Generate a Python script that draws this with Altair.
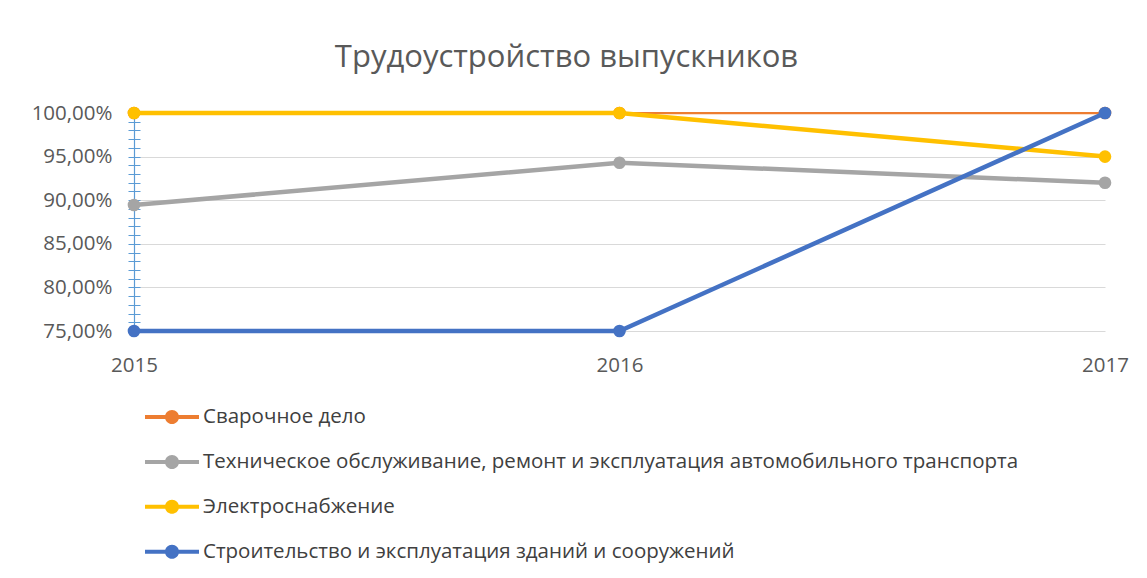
import altair as alt
import pandas as pd

years = ["2015", "2016", "2017"]
series = [
    "Сварочное дело",
    "Техническое обслуживание, ремонт и  эксплуатация автомобильного транспорта",
    "Электроснабжение",
    "Строительство и  эксплуатация зданий и сооружений",
]
values = [
    [1.00, 1.00, 1.00],
    [0.8945, 0.943, 0.92],
    [1.00, 1.00, 0.95],
    [0.75, 0.75, 1.00],
]
colors = ["#ED7D31", "#A5A5A5", "#FFC000", "#4472C4"]
widths = [2.25, 4.5, 4.5, 4.5]
major_ticks = [0.75, 0.80, 0.85, 0.90, 0.95, 1.00]
minor_ticks = [round(0.75 + i * 0.01, 2) for i in range(26)]

rows = []
for si, s in enumerate(series):
    for yi, y in enumerate(years):
        rows.append({"series": s, "year": y, "value": values[si][yi], "order": si})
df = pd.DataFrame(rows)

FONT = "Open Sans"
LABEL_COLOR = "#595959"

x_enc = alt.X("year:N", scale=alt.Scale(domain=years, padding=0),
              axis=alt.Axis(title=None, labelAngle=0, ticks=False, domain=False,
                            labelPadding=24, labelFontSize=20.5, labelColor=LABEL_COLOR,
                            labelFont=FONT, grid=False))
y_scale = alt.Scale(domain=[0.75, 1.0], zero=False, nice=False)
color_scale = alt.Scale(domain=series, range=colors)

base = alt.Chart(df).mark_line(opacity=0).encode(
    x=x_enc,
    y=alt.Y("value:Q", scale=y_scale,
            axis=alt.Axis(title=None, values=major_ticks, grid=True, gridColor="#d9d9d9",
                          ticks=False, domainColor="#5B9BD5", domainWidth=1.2,
                          labelExpr="replace(format(datum.value, '.2%'), '.', ',')",
                          labelFontSize=20.5, labelColor=LABEL_COLOR, labelFont=FONT,
                          labelPadding=22)),
    color=alt.Color("series:N", scale=color_scale,
                    legend=alt.Legend(
                        title=None, orient="none", legendX=11, legendY=277,
                        direction="vertical",
                        symbolType="M-1,-0.075L1,-0.075L1,0.075L-1,0.075Z M0.26,0A0.26,0.26 0 1,1 -0.26,0A0.26,0.26 0 1,1 0.26,0Z",
                        symbolSize=2916, symbolStrokeWidth=0, symbolOpacity=1,
                        labelFont=FONT, labelFontSize=20.5, labelColor="#404040",
                        labelLimit=1000, rowPadding=6.9, labelOffset=4)),
)

minor = alt.Chart(df).mark_point(opacity=0).encode(
    x=x_enc,
    y=alt.Y("value:Q", scale=y_scale,
            axis=alt.Axis(title=None, orient="left", values=minor_ticks, offset=-6,
                          tickSize=12, tickColor="#5B9BD5", tickWidth=1,
                          domain=False, labels=False, grid=False)),
)

layers = []
for si in range(len(series)):
    sub = df[df["order"] == si]
    layers.append(
        alt.Chart(sub).mark_line(strokeWidth=widths[si]).encode(
            x=x_enc, y=alt.Y("value:Q", scale=y_scale, axis=None),
            color=alt.Color("series:N", scale=color_scale, legend=None))
    )
    layers.append(
        alt.Chart(sub).mark_point(filled=True, size=160, opacity=1).encode(
            x=x_enc, y=alt.Y("value:Q", scale=y_scale, axis=None),
            color=alt.Color("series:N", scale=color_scale, legend=None))
    )

chart = alt.layer(base, minor, *layers).resolve_axis(y="independent").properties(
    width=971, height=218,
    background="white",
    title=alt.TitleParams("Трудоустройство выпускников", fontSize=31, font=FONT,
                          color=LABEL_COLOR, fontWeight="normal", anchor="middle",
                          dx=-53, offset=29),
    padding={"left": 126, "top": 105, "right": 30, "bottom": 239},
    autosize=alt.AutoSizeParams(type="none"),
).configure_view(stroke=None, strokeWidth=0)

chart.save("out.html", embed_options={"renderer": "svg", "actions": False})
